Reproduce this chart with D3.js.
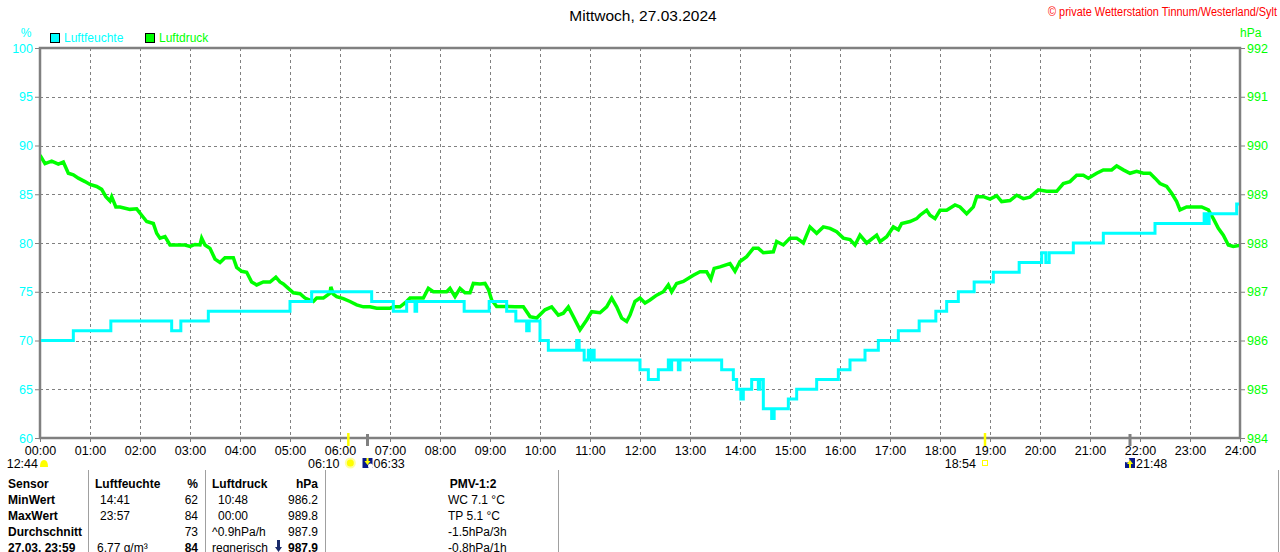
<!DOCTYPE html>
<html>
<head>
<meta charset="utf-8">
<script src="https://cdn.jsdelivr.net/npm/d3@7"></script>
<style>
  body { margin: 0; background: #fff; }
  svg { display: block; font-family: "Liberation Sans", Arial, sans-serif; }
</style>
</head>
<body>
<svg id="chart" width="1280" height="552"></svg>
<script>
// tick labels
var hourTicks = d3.range(0, 25);
var humTicks = [60, 65, 70, 75, 80, 85, 90, 95, 100];
var pressTicks = [984, 985, 986, 987, 988, 989, 990, 991, 992];

// Luftfeuchte in % (step values)
var humidity = [
  ["00:00", 70], ["00:40", 71], ["01:25", 72], ["02:38", 71], ["02:49", 72],
  ["03:22", 73], ["05:00", 74], ["05:26", 75], ["06:38", 74], ["07:04", 73],
  ["07:20", 74], ["07:30", 73], ["07:32", 74], ["08:29", 73], ["08:59", 74],
  ["09:20", 73], ["09:31", 72], ["09:44", 71], ["09:47", 72], ["10:00", 70],
  ["10:10", 69], ["10:44", 70], ["10:47", 69], ["10:53", 68], ["10:58", 69],
  ["11:00", 68], ["11:02", 69], ["11:05", 68], ["12:00", 67], ["12:10", 66],
  ["12:22", 67], ["12:34", 68], ["12:36", 67], ["12:38", 68], ["12:46", 67],
  ["12:48", 68], ["13:38", 67], ["13:52", 66], ["13:56", 65], ["14:01", 64],
  ["14:04", 65], ["14:14", 66], ["14:22", 65], ["14:24", 66], ["14:28", 63],
  ["14:38", 62], ["14:41", 63], ["14:58", 64], ["15:08", 65], ["15:32", 66],
  ["15:58", 67], ["16:12", 68], ["16:30", 69], ["16:46", 70], ["17:10", 71],
  ["17:35", 72], ["17:55", 73], ["18:08", 74], ["18:22", 75], ["18:41", 76],
  ["19:04", 77], ["19:35", 78], ["20:02", 79], ["20:07", 78], ["20:11", 79],
  ["20:40", 80], ["21:16", 81], ["22:18", 82], ["23:17", 83], ["23:20", 82],
  ["23:23", 83], ["23:56", 84], ["24:00", 84]
];

// Luftdruck in hPa
var pressure = [
  ["00:00", 989.8], ["00:06", 989.63], ["00:14", 989.68], ["00:22", 989.62], ["00:28", 989.66],
  ["00:34", 989.43], ["00:40", 989.4], ["00:46", 989.33], ["00:54", 989.26], ["01:00", 989.2],
  ["01:08", 989.16], ["01:14", 989.1], ["01:19", 988.95], ["01:24", 988.86], ["01:26", 988.95],
  ["01:31", 988.74], ["01:36", 988.74], ["01:48", 988.69], ["01:56", 988.7], ["02:02", 988.57],
  ["02:08", 988.44], ["02:16", 988.4], ["02:20", 988.2], ["02:24", 988.1], ["02:30", 988.13],
  ["02:36", 987.96], ["02:44", 987.96], ["02:54", 987.96], ["03:00", 987.93], ["03:06", 987.97],
  ["03:12", 987.96], ["03:14", 988.1], ["03:18", 987.96], ["03:24", 987.89], ["03:30", 987.67],
  ["03:36", 987.6], ["03:42", 987.7], ["03:52", 987.7], ["03:56", 987.5], ["04:02", 987.42],
  ["04:08", 987.4], ["04:14", 987.2], ["04:20", 987.14], ["04:28", 987.2], ["04:36", 987.2],
  ["04:43", 987.3], ["04:48", 987.2], ["04:52", 987.16], ["04:58", 987.07], ["05:04", 986.98],
  ["05:12", 986.96], ["05:18", 986.87], ["05:28", 986.8], ["05:32", 986.87], ["05:40", 986.87],
  ["05:48", 986.97], ["05:49", 987.1], ["05:52", 986.95], ["05:56", 986.9], ["06:04", 986.86],
  ["06:12", 986.8], ["06:20", 986.73], ["06:28", 986.69], ["06:36", 986.69], ["06:44", 986.66],
  ["07:00", 986.66], ["07:04", 986.69], ["07:12", 986.69], ["07:18", 986.77], ["07:24", 986.87],
  ["07:32", 986.87], ["07:40", 986.87], ["07:46", 987.07], ["07:52", 987.0], ["08:00", 987.0],
  ["08:08", 987.0], ["08:12", 987.07], ["08:18", 986.9], ["08:24", 987.07], ["08:30", 986.98],
  ["08:36", 986.98], ["08:40", 987.17], ["08:48", 987.16], ["08:54", 987.17], ["08:58", 987.05],
  ["09:02", 986.83], ["09:08", 986.7], ["09:20", 986.7], ["09:30", 986.69], ["09:40", 986.69],
  ["09:48", 986.49], ["09:56", 986.46], ["10:06", 986.63], ["10:14", 986.69], ["10:22", 986.52],
  ["10:28", 986.56], ["10:34", 986.69], ["10:40", 986.49], ["10:48", 986.22], ["10:56", 986.42],
  ["11:02", 986.59], ["11:12", 986.57], ["11:20", 986.69], ["11:26", 986.87], ["11:32", 986.69],
  ["11:38", 986.46], ["11:44", 986.39], ["11:48", 986.52], ["11:54", 986.8], ["12:00", 986.87],
  ["12:06", 986.77], ["12:12", 986.83], ["12:20", 986.93], ["12:28", 987.0], ["12:34", 987.14],
  ["12:38", 987.0], ["12:44", 987.17], ["12:52", 987.21], ["13:04", 987.34], ["13:12", 987.41],
  ["13:20", 987.41], ["13:25", 987.26], ["13:29", 987.48], ["13:36", 987.51], ["13:48", 987.58],
  ["13:54", 987.42], ["14:00", 987.62], ["14:08", 987.72], ["14:16", 987.89], ["14:22", 987.89],
  ["14:28", 987.8], ["14:40", 987.82], ["14:44", 988.03], ["14:52", 987.96], ["15:00", 988.1],
  ["15:08", 988.1], ["15:16", 988.0], ["15:24", 988.33], ["15:32", 988.2], ["15:40", 988.33],
  ["15:48", 988.3], ["15:56", 988.23], ["16:04", 988.1], ["16:12", 988.07], ["16:18", 987.96],
  ["16:24", 988.16], ["16:32", 988.0], ["16:44", 988.16], ["16:48", 988.03], ["16:56", 988.13],
  ["17:04", 988.33], ["17:10", 988.27], ["17:14", 988.4], ["17:24", 988.44], ["17:32", 988.5],
  ["17:36", 988.57], ["17:44", 988.67], ["17:48", 988.57], ["17:54", 988.5], ["18:00", 988.67],
  ["18:08", 988.67], ["18:18", 988.78], ["18:24", 988.74], ["18:32", 988.6], ["18:40", 988.74],
  ["18:44", 988.95], ["18:52", 988.95], ["19:00", 988.9], ["19:08", 988.97], ["19:14", 988.85],
  ["19:24", 988.87], ["19:32", 988.98], ["19:40", 988.91], ["19:48", 988.94], ["19:58", 989.09],
  ["20:08", 989.06], ["20:20", 989.06], ["20:28", 989.22], ["20:36", 989.26], ["20:44", 989.39],
  ["20:52", 989.39], ["20:58", 989.33], ["21:08", 989.43], ["21:16", 989.5], ["21:26", 989.5],
  ["21:32", 989.58], ["21:40", 989.5], ["21:48", 989.43], ["21:56", 989.47], ["22:04", 989.43],
  ["22:12", 989.43], ["22:18", 989.33], ["22:24", 989.22], ["22:32", 989.16], ["22:38", 989.02],
  ["22:44", 988.85], ["22:48", 988.68], ["22:56", 988.74], ["23:08", 988.74], ["23:14", 988.74],
  ["23:22", 988.68], ["23:28", 988.5], ["23:34", 988.3], ["23:40", 988.16], ["23:46", 987.96],
  ["23:52", 987.93], ["24:00", 987.95]
];

// Sonne / Mond
var sunTimes = ["06:10", "18:54"];
var moonTimes = ["06:33", "21:48"];
var dayLength = "12:44";

// Tabelle unten
var tableRows = [
  ["Sensor", "Luftfeuchte", "%", "Luftdruck", "hPa", "PMV-1:2"],
  ["MinWert", "14:41", "62", "10:48", "986.2", "WC 7.1 °C"],
  ["MaxWert", "23:57", "84", "00:00", "989.8", "TP 5.1 °C"],
  ["Durchschnitt", "", "73", "^0.9hPa/h", "987.9", "-1.5hPa/3h"],
  ["27.03. 23:59", "6.77 g/m³", "84", "regnerisch", "987.9", "-0.8hPa/1h"]
];

var CYAN = "#00ffff", GREEN = "#00ff00", GREY = "#808080";

function toHours(s) {
  var p = s.split(":");
  return +p[0] + (+p[1]) / 60;
}

var svg = d3.select("#chart");
var plotL = 40, plotR = 1240, plotT = 48, plotB = 438;

var x = d3.scaleLinear().domain([0, 24]).range([plotL, plotR]);
var yHum = d3.scaleLinear().domain([60, 100]).range([plotB, plotT]);
var yPress = d3.scaleLinear().domain([984, 992]).range([plotB, plotT]);

// title + copyright
svg.append("text").attr("x", 643).attr("y", 21).attr("text-anchor", "middle")
  .style("font-size", "15.5px").text("Mittwoch, 27.03.2024");
svg.append("text").attr("x", 1048).attr("y", 16)
  .attr("textLength", 229).attr("lengthAdjust", "spacingAndGlyphs")
  .style("font-size", "12px").attr("fill", "#ff0000")
  .text("© private Wetterstation Tinnum/Westerland/Sylt");

// units + legend
svg.append("text").attr("x", 26).attr("y", 37).attr("text-anchor", "middle")
  .style("font-size", "12px").attr("fill", CYAN).text("%");
svg.append("text").attr("x", 1240).attr("y", 37)
  .style("font-size", "12px").attr("fill", GREEN).text("hPa");

var legend = [["Luftfeuchte", CYAN, 50], ["Luftdruck", GREEN, 145]];
legend.forEach(function(l) {
  svg.append("rect").attr("x", l[2] + 0.5).attr("y", 33.5).attr("width", 9).attr("height", 9)
    .attr("fill", l[1]).attr("stroke", "#000");
  svg.append("text").attr("x", l[2] + 14).attr("y", 42)
    .style("font-size", "12px").attr("fill", l[1]).text(l[0]);
});

// grid
var grid = svg.append("g").attr("stroke", GREY).attr("stroke-dasharray", "3,3");
hourTicks.slice(1, -1).forEach(function(h) {
  grid.append("line").attr("x1", x(h) + 0.5).attr("x2", x(h) + 0.5)
    .attr("y1", plotT).attr("y2", plotB);
});
humTicks.slice(1, -1).forEach(function(v) {
  grid.append("line").attr("x1", plotL).attr("x2", plotR)
    .attr("y1", Math.round(yHum(v)) + 0.5).attr("y2", Math.round(yHum(v)) + 0.5);
});

// axes
var axL = svg.append("g").attr("transform", "translate(" + plotL + ",0)")
  .call(d3.axisLeft(yHum).tickValues(humTicks).tickSize(5).tickPadding(2));
axL.selectAll("text").attr("fill", CYAN).style("font-size", "12.5px").style("font-family", "inherit");

var axR = svg.append("g").attr("transform", "translate(" + plotR + ",0)")
  .call(d3.axisRight(yPress).tickValues(pressTicks).tickSize(5).tickPadding(2));
axR.selectAll("text").attr("fill", GREEN).style("font-size", "12.5px").style("font-family", "inherit");

var axB = svg.append("g").attr("transform", "translate(0," + plotB + ")")
  .call(d3.axisBottom(x).tickValues(hourTicks).tickSize(4).tickPadding(4)
    .tickFormat(function(h) { return d3.format("02")(h) + ":00"; }));
axB.selectAll("text").attr("fill", "#000").style("font-size", "12.5px").style("font-family", "inherit");

[axL, axR, axB].forEach(function(a) {
  a.select(".domain").remove();
  a.selectAll(".tick line").attr("stroke", GREY);
});

// frame
svg.append("rect").attr("x", plotL).attr("y", plotT).attr("width", plotR - plotL).attr("height", plotB - plotT)
  .attr("fill", "none").attr("stroke", GREY).attr("stroke-width", 2.5);

// lines
svg.append("clipPath").attr("id", "plot").append("rect")
  .attr("x", plotL + 1).attr("y", plotT + 1).attr("width", plotR - plotL - 2).attr("height", plotB - plotT - 2);

var plot = svg.append("g").attr("clip-path", "url(#plot)");

var pressLine = d3.line()
  .x(function(d) { return x(toHours(d[0])); })
  .y(function(d) { return yPress(d[1]); });
plot.append("path").datum(pressure).attr("d", pressLine)
  .attr("fill", "none").attr("stroke", GREEN).attr("stroke-width", 3.5);

var humLine = d3.line()
  .curve(d3.curveStepAfter)
  .x(function(d) { return x(toHours(d[0])); })
  .y(function(d) { return yHum(d[1]); });
plot.append("path").datum(humidity).attr("d", humLine)
  .attr("fill", "none").attr("stroke", CYAN).attr("stroke-width", 3);

// sun + moon markers
var marks = svg.append("g").style("font-size", "12.5px");
marks.append("text").attr("x", 38).attr("y", 468).attr("text-anchor", "end").text(dayLength);
marks.append("path").attr("d", "M40,467 Q40,460 44,460 Q48,460 48,467 Z").attr("fill", "#ffff00");

sunTimes.forEach(function(t, i) {
  var sx = x(toHours(t));
  marks.append("line").attr("x1", sx).attr("x2", sx).attr("y1", 433).attr("y2", 446)
    .attr("stroke", "#ffff00").attr("stroke-width", 2.5);
  marks.append("text").attr("x", sx - 9).attr("y", 468).attr("text-anchor", "end").text(t);
  if (i === 0) {
    marks.append("circle").attr("cx", sx + 2).attr("cy", 463).attr("r", 5.5).attr("fill", "#ffffa0");
    marks.append("circle").attr("cx", sx + 2).attr("cy", 463).attr("r", 3.5).attr("fill", "#ffff00");
  } else {
    marks.append("rect").attr("x", sx - 2.5).attr("y", 460.5).attr("width", 5).attr("height", 5)
      .attr("fill", "none").attr("stroke", "#ffff00");
  }
});

moonTimes.forEach(function(t, i) {
  var mx = x(toHours(t));
  marks.append("line").attr("x1", mx).attr("x2", mx).attr("y1", 434).attr("y2", 446)
    .attr("stroke", GREY).attr("stroke-width", 3);
  marks.append("rect").attr("x", mx - 5).attr("y", 458).attr("width", 10).attr("height", 10).attr("fill", "#0a1a8a");
  if (i === 0) {
    marks.append("path").attr("d", "M" + (mx - 3) + ",461 h2 v-3 h2 v3 h2 l-3,4 z").attr("fill", "#ffff00");
    marks.append("circle").attr("cx", mx + 3).attr("cy", 466).attr("r", 2.5).attr("fill", "#fff");
  } else {
    marks.append("circle").attr("cx", mx - 3).attr("cy", 460).attr("r", 2.5).attr("fill", "#fff");
    marks.append("path").attr("d", "M" + (mx - 1) + ",464 h-2 l3,-4 l3,4 h-2 v4 h-2 z").attr("fill", "#ffff00");
  }
  marks.append("text").attr("x", mx + 6).attr("y", 468).text(t);
});

// table
var tbl = svg.append("g").style("font-size", "12px");
[88, 205, 325, 558, 1278].forEach(function(sx) {
  tbl.append("line").attr("x1", sx + 0.5).attr("x2", sx + 0.5).attr("y1", 470).attr("y2", 552)
    .attr("stroke", "#a0a0a0");
});
tableRows.forEach(function(r, i) {
  var ty = 488 + i * 16;
  var head = i === 0;
  tbl.append("text").attr("x", 8).attr("y", ty).style("font-weight", "bold").text(r[0]);
  tbl.append("text").attr("x", head ? 95 : (i === 4 ? 97 : 100)).attr("y", ty)
    .style("font-weight", head ? "bold" : "normal").text(r[1]);
  tbl.append("text").attr("x", 198).attr("y", ty).attr("text-anchor", "end")
    .style("font-weight", head || i === 4 ? "bold" : "normal").text(r[2]);
  tbl.append("text").attr("x", head || i >= 3 ? 212 : 218).attr("y", ty)
    .style("font-weight", head ? "bold" : "normal").text(r[3]);
  tbl.append("text").attr("x", 318).attr("y", ty).attr("text-anchor", "end")
    .style("font-weight", head || i === 4 ? "bold" : "normal").text(r[4]);
  tbl.append("text").attr("x", head ? 473 : 448).attr("y", ty)
    .attr("text-anchor", head ? "middle" : "start")
    .style("font-weight", head ? "bold" : "normal").text(r[5]);
});
// Tendenzpfeil
tbl.append("path").attr("d", "M277,540 h3 v7 h2 l-3.5,5 l-3.5,-5 h2 z").attr("fill", "#1a2a6a");
</script>
</body>
</html>
